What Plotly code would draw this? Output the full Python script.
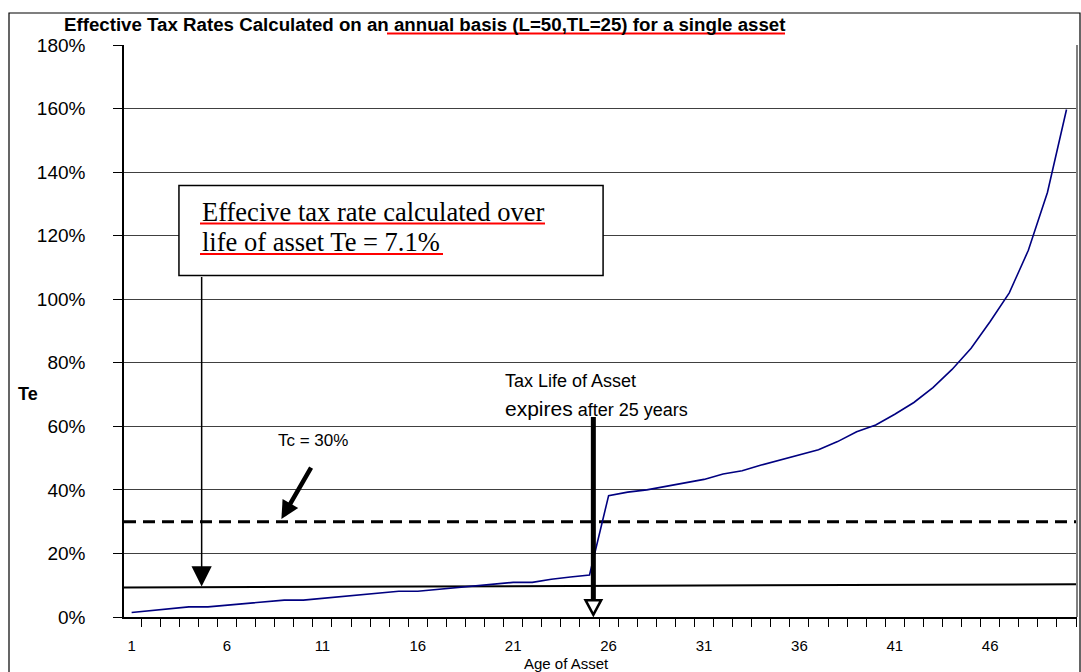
import plotly.graph_objects as go

# ---------------- data ----------------
ages = list(range(1, 51))
te_annual = [1.4, 2.0, 2.6, 3.2, 3.2, 3.7, 4.2, 4.8, 5.3, 5.3,
             5.9, 6.4, 7.0, 7.6, 8.1, 8.1, 8.7, 9.3, 9.8, 10.4,
             10.9, 10.9, 11.9, 12.6, 13.2, 38.2, 39.3, 40.0, 41.1, 42.2,
             43.3, 45.0, 46.0, 47.8, 49.4, 51.0, 52.6, 55.2, 58.3, 60.4,
             63.8, 67.5, 72.2, 77.9, 84.6, 93.0, 102.0, 115.4, 133.6, 159.7]
x_range = [0.6, 50.55]
tc_rate = [30, 30]
te_life_line = [9.3, 10.3]
x_tick_vals = [1, 6, 11, 16, 21, 26, 31, 36, 41, 46]
x_tick_text = [str(v) for v in x_tick_vals]
y_tick_vals = [0, 20, 40, 60, 80, 100, 120, 140, 160, 180]
y_tick_text = [f"{v}%" for v in y_tick_vals]

SANS = "Liberation Sans, Arial, sans-serif"
SERIF = "Liberation Serif, Times New Roman, serif"

# plot area in pixels: left 124, right 1077, top 45, bottom 617
def px_x(px):
    return (px - 124) / 953.0

def px_y(py):
    return (617 - py) / 572.0

fig = go.Figure()

fig.add_trace(go.Scatter(x=x_range, y=tc_rate, mode="lines",
                         line=dict(color="black", width=3, dash="12px,7px"),
                         hoverinfo="skip"))
fig.add_trace(go.Scatter(x=x_range, y=te_life_line, mode="lines",
                         line=dict(color="black", width=2), hoverinfo="skip"))
fig.add_trace(go.Scatter(x=ages, y=te_annual, mode="lines",
                         line=dict(color="#000080", width=1.6)))

shapes = []
# outer chart border
shapes.append(dict(type="rect", xref="paper", yref="paper",
                   x0=px_x(9), x1=px_x(1080), y0=px_y(680), y1=px_y(13),
                   line=dict(color="black", width=1.2), fillcolor="rgba(0,0,0,0)", layer="below"))
# right border of plot area
shapes.append(dict(type="line", xref="paper", yref="paper", x0=1, x1=1, y0=0, y1=1,
                   line=dict(color="#808080", width=2)))
# annotation box
shapes.append(dict(type="rect", xref="x", yref="y", x0=3.48, x1=25.71, y0=107.5, y1=135.8,
                   line=dict(color="black", width=1.5), fillcolor="white", layer="above"))
# red underlines in box
shapes.append(dict(type="line", xref="paper", yref="paper", x0=px_x(200), x1=px_x(545),
                   y0=px_y(223.5), y1=px_y(223.5), line=dict(color="#ff0000", width=2)))
shapes.append(dict(type="line", xref="paper", yref="paper", x0=px_x(200), x1=px_x(443),
                   y0=px_y(254), y1=px_y(254), line=dict(color="#ff0000", width=2)))
# red underline in title
shapes.append(dict(type="line", xref="paper", yref="paper", x0=px_x(387), x1=px_x(785),
                   y0=px_y(33.5), y1=px_y(33.5), line=dict(color="#ff0000", width=2)))
# thick tax-life arrow: shaft and open head
shapes.append(dict(type="line", xref="x", yref="y", x0=25.2, x1=25.2, y0=62.9, y1=5.0,
                   line=dict(color="black", width=5)))
shapes.append(dict(type="path", xref="x", yref="y",
                   path="M 24.79,5.3 L 25.61,5.3 L 25.2,0.7 Z",
                   line=dict(color="black", width=2.5), fillcolor="white"))

annotations = []
annotations.append(dict(xref="paper", yref="paper", x=px_x(62), y=px_y(25), xanchor="left", yanchor="middle",
                        text="<b>Effective Tax Rates Calculated on an annual basis (L=50,TL=25) for a single asset</b>",
                        showarrow=False, font=dict(family=SANS, size=18.7, color="black")))
annotations.append(dict(xref="paper", yref="paper", x=px_x(28), y=px_y(394), xanchor="center", yanchor="middle",
                        text="<b>Te</b>", showarrow=False, font=dict(family=SANS, size=18, color="black")))
annotations.append(dict(xref="x", yref="paper", x=23.8, y=px_y(663), xanchor="center", yanchor="middle",
                        text="Age of Asset", showarrow=False, font=dict(family=SANS, size=15, color="black")))
annotations.append(dict(xref="paper", yref="paper", x=px_x(200), y=px_y(212), xanchor="left", yanchor="middle",
                        text="Effecive tax rate calculated over",
                        showarrow=False, font=dict(family=SERIF, size=26.5, color="black")))
annotations.append(dict(xref="paper", yref="paper", x=px_x(200), y=px_y(242), xanchor="left", yanchor="middle",
                        text="life of asset Te = 7.1%",
                        showarrow=False, font=dict(family=SERIF, size=26.5, color="black")))
# thin arrow from box to Te line
annotations.append(dict(xref="x", yref="y", x=4.67, y=9.6, axref="x", ayref="y", ax=4.67, ay=107.5,
                        text="", showarrow=True, arrowhead=2, arrowsize=2.7, arrowwidth=1.5,
                        arrowcolor="black"))
# Tc label and arrow
annotations.append(dict(xref="x", yref="y", x=8.57, y=55.7, xanchor="left", yanchor="middle",
                        text="Tc = 30%", showarrow=False, font=dict(family=SANS, size=17, color="black")))
annotations.append(dict(xref="x", yref="y", x=8.85, y=30.8, axref="x", ayref="y", ax=10.45, ay=47.5,
                        text="", showarrow=True, arrowhead=2, arrowsize=0.8, arrowwidth=4.5,
                        arrowcolor="black"))
# Tax life labels
annotations.append(dict(xref="x", yref="y", x=20.47, y=74.2, xanchor="left", yanchor="middle",
                        text="Tax Life of Asset", showarrow=False,
                        font=dict(family=SANS, size=18, color="black")))
annotations.append(dict(xref="x", yref="y", x=20.47, y=65.6, xanchor="left", yanchor="middle",
                        text="<span style='font-size:21px'>expires</span> after 25 years", showarrow=False,
                        font=dict(family=SANS, size=18, color="black")))

fig.update_layout(
    width=1081, height=672,
    margin=dict(l=124, r=4, t=45, b=55, autoexpand=False),
    paper_bgcolor="white", plot_bgcolor="white",
    showlegend=False,
    shapes=shapes, annotations=annotations,
    xaxis=dict(range=x_range, tickmode="array", tickvals=x_tick_vals, ticktext=x_tick_text,
               ticks="", showgrid=False, zeroline=False, showline=True, linecolor="black",
               linewidth=1.5, ticklabelstandoff=14, automargin=False,
               tickfont=dict(family=SANS, size=15, color="black"),
               minor=dict(ticks="outside", tick0=0.5, dtick=1, ticklen=8, tickcolor="black",
                          tickwidth=1, showgrid=False)),
    yaxis=dict(range=[0, 180], tickmode="array", tickvals=y_tick_vals, ticktext=y_tick_text,
               ticks="outside", ticklen=9, tickcolor="black", showgrid=True, gridcolor="#404040",
               gridwidth=1, zeroline=False, showline=True, linecolor="black", linewidth=1.5,
               ticklabelstandoff=24, automargin=False,
               tickfont=dict(family=SANS, size=19, color="black")),
)

fig.write_html("out.html", config={"displayModeBar": False},
               post_script="document.body.style.margin='0';document.body.style.overflow='hidden';")
